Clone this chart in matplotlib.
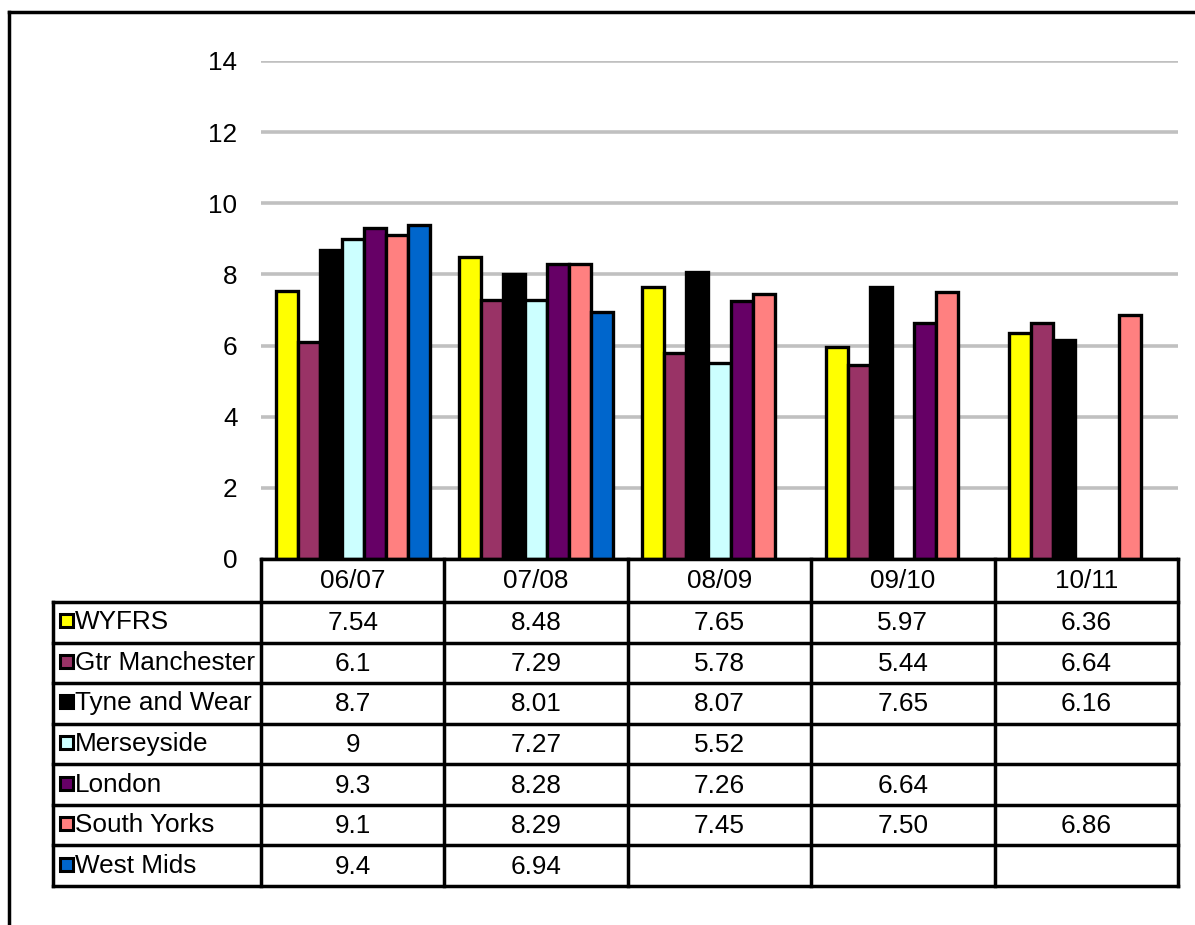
import numpy as np
import matplotlib
matplotlib.use("Agg")
import matplotlib.pyplot as plt
from matplotlib.patches import Rectangle

plt.rcParams['font.family'] = ['Liberation Sans', 'DejaVu Sans']

# data, as shown in the chart's data table
years = ["06/07", "07/08", "08/09", "09/10", "10/11"]
wyfrs = ["7.54", "8.48", "7.65", "5.97", "6.36"]
gtr_manchester = ["6.1", "7.29", "5.78", "5.44", "6.64"]
tyne_and_wear = ["8.7", "8.01", "8.07", "7.65", "6.16"]
merseyside = ["9", "7.27", "5.52", "", ""]
london = ["9.3", "8.28", "7.26", "6.64", ""]
south_yorks = ["9.1", "8.29", "7.45", "7.50", "6.86"]
west_mids = ["9.4", "6.94", "", "", ""]

series = [
    ("WYFRS", wyfrs, "#FFFF00"),
    ("Gtr Manchester", gtr_manchester, "#993366"),
    ("Tyne and Wear", tyne_and_wear, "#000000"),
    ("Merseyside", merseyside, "#CCFFFF"),
    ("London", london, "#660066"),
    ("South Yorks", south_yorks, "#FF8080"),
    ("West Mids", west_mids, "#0066CC"),
]

W, H = 1195, 925
fs = 18.8
fig = plt.figure(figsize=(W / 100, H / 100), dpi=100)

# chart area (pixel layout)
left, right, top, bottom = 261, 1178, 61, 559
ax = fig.add_axes([left / W, (H - bottom) / H, (right - left) / W, (bottom - top) / H])

n = len(series)
x = np.arange(len(years))
bw = 0.84 / n
for k, (name, vals, col) in enumerate(series):
    v = np.array([float(s) if s else np.nan for s in vals])
    ax.bar(x + (k - (n - 1) / 2) * bw, v, bw, color=col, edgecolor="black",
           linewidth=2.4, zorder=3)

ax.set_xlim(-0.5, len(years) - 0.5)
ax.set_ylim(0, 14)
ax.set_yticks(range(0, 15, 2))
ax.set_xticks([])
ax.tick_params(axis="y", length=0, pad=17, labelsize=fs)
for s in ax.spines.values():
    s.set_visible(False)
ax.yaxis.grid(True, color="#C0C0C0", linewidth=2.6, zorder=0)
ax.set_axisbelow(True)

# overlay in pixel coordinates for the data table and frame
ov = fig.add_axes([0, 0, 1, 1])
ov.set_xlim(0, W)
ov.set_ylim(H, 0)
ov.axis("off")
ov.patch.set_alpha(0)

lw = 2.5
lab_left = 53
# column edges taken from the bar axes
edges = [ax.transData.transform((i - 0.5, 0))[0] for i in range(len(years) + 1)]
hdr_top, hdr_bot = 559, 602
row_h = (886 - hdr_bot) / n
rows = [hdr_bot + i * row_h for i in range(n + 1)]

# header row
ov.plot([edges[0], edges[-1]], [hdr_top, hdr_top], color="black", lw=lw)
for e in edges:
    ov.plot([e, e], [hdr_top, rows[-1]], color="black", lw=lw)
for i, yr in enumerate(years):
    ov.text((edges[i] + edges[i + 1]) / 2, (hdr_top + hdr_bot) / 2 + 1, yr,
            ha="center", va="center", fontsize=fs)

# body rows
for r in rows:
    ov.plot([lab_left, edges[-1]], [r, r], color="black", lw=lw)
ov.plot([lab_left, lab_left], [rows[0], rows[-1]], color="black", lw=lw)

for k, (name, vals, col) in enumerate(series):
    yc = (rows[k] + rows[k + 1]) / 2
    ov.add_patch(Rectangle((60, yc - 8), 13, 13, facecolor=col,
                           edgecolor="black", linewidth=2.2))
    ov.text(75, yc, name, ha="left", va="center", fontsize=fs)
    for i, s in enumerate(vals):
        if s:
            ov.text((edges[i] + edges[i + 1]) / 2, yc + 1, s,
                    ha="center", va="center", fontsize=fs)

# outer frame
ov.plot([9, W], [12, 12], color="black", lw=2.5)
ov.plot([9, 9], [12, H], color="black", lw=2.5)

fig.savefig("out.png", dpi=100)
